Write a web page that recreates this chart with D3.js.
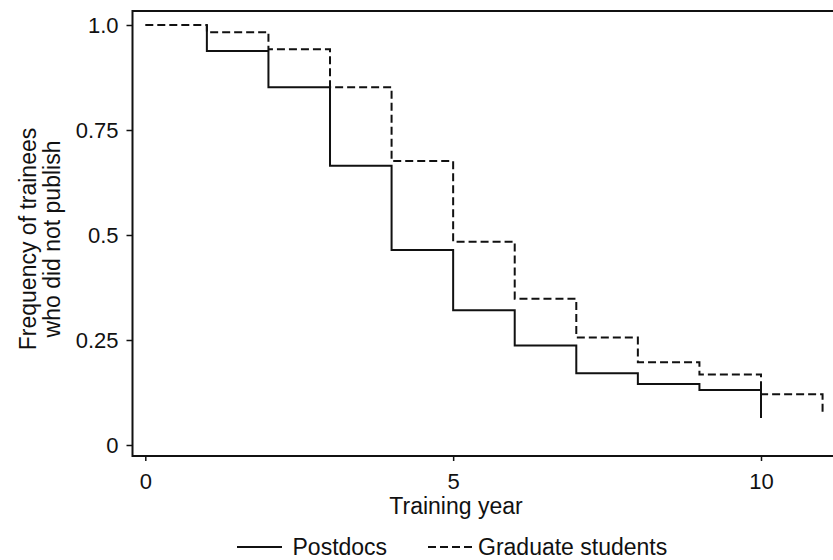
<!DOCTYPE html>
<html>
<head>
<meta charset="utf-8">
<script src="https://cdn.jsdelivr.net/npm/d3@7"></script>
<style>
  body { margin: 0; background: #fff; }
  text { font-family: "Liberation Sans", Arial, sans-serif; fill: #111; }
</style>
</head>
<body>
<div id="chart"></div>
<script>
// survival value holding from year i until year i+1 (last value = end of the final drop)
const postdocYears = [1, 2, 3, 4, 5, 6, 7, 8, 9, 10];
const postdocPrev  = [1.0, 0.938, 0.852, 0.665, 0.464, 0.321, 0.237, 0.171, 0.145, 0.131];
const postdocNext  = [0.938, 0.852, 0.665, 0.464, 0.321, 0.237, 0.171, 0.145, 0.131, 0.064];

const gradYears = [0, 1, 2, 3, 4, 5, 6, 7, 8, 9, 10, 11];
const gradSurv  = [1.0, 0.983, 0.942, 0.852, 0.676, 0.484, 0.348, 0.256, 0.197, 0.168, 0.121, 0.077];

const yTicks = [0, 0.25, 0.5, 0.75, 1];
const yTickLabels = ["0", "0.25", "0.5", "0.75", "1.0"];
const xTicks = [0, 5, 10];

const width = 833, height = 560;

const svg = d3.select("#chart").append("svg")
  .attr("width", width)
  .attr("height", height);

const x = d3.scaleLinear().domain([0, 10]).range([145.3, 761]);
const y = d3.scaleLinear().domain([0, 1]).range([445, 25]);

const frameLeft = 132.5, frameTop = 11, frameBottom = 456;

// frame (right side runs off the picture)
svg.append("path")
  .attr("d", `M${width + 5},${frameTop}H${frameLeft}V${frameBottom}H${width + 5}`)
  .attr("fill", "none")
  .attr("stroke", "#111")
  .attr("stroke-width", 2);

// axes
const yAxis = svg.append("g")
  .attr("transform", `translate(${frameLeft},0)`)
  .call(d3.axisLeft(y).tickValues(yTicks).tickSize(6).tickPadding(8)
    .tickFormat((d, i) => yTickLabels[i]));
yAxis.select(".domain").remove();
yAxis.selectAll("line").attr("stroke", "#111").attr("stroke-width", 1.5);
yAxis.selectAll("text").style("font-size", "22px").attr("fill", "#111");

const xAxis = svg.append("g")
  .attr("transform", `translate(0,${frameBottom})`)
  .call(d3.axisBottom(x).tickValues(xTicks).tickSize(5).tickPadding(12)
    .tickFormat(d3.format("d")));
xAxis.select(".domain").remove();
xAxis.selectAll("line").attr("stroke", "#111").attr("stroke-width", 1.5);
xAxis.selectAll("text").style("font-size", "22px").attr("fill", "#111");

// step curves
const line = d3.line().x(d => x(d[0])).y(d => y(d[1]));

const postdocPts = [];
postdocYears.forEach((yr, i) => {
  postdocPts.push([yr, postdocPrev[i]]);
  postdocPts.push([yr, postdocNext[i]]);
});

svg.append("path")
  .attr("d", line(postdocPts))
  .attr("fill", "none")
  .attr("stroke", "#111")
  .attr("stroke-width", 2);

const gradPts = [];
gradYears.forEach((yr, i) => {
  if (i > 0) gradPts.push([yr, gradSurv[i - 1]]);
  gradPts.push([yr, gradSurv[i]]);
});

svg.append("path")
  .attr("d", line(gradPts))
  .attr("fill", "none")
  .attr("stroke", "#111")
  .attr("stroke-width", 2)
  .attr("stroke-dasharray", "8,4");

// axis titles
svg.append("text")
  .attr("x", 456)
  .attr("y", 514)
  .attr("text-anchor", "middle")
  .style("font-size", "23px")
  .text("Training year");

const yTitle = svg.append("text")
  .attr("transform", "translate(0,239) rotate(-90)")
  .attr("text-anchor", "middle")
  .style("font-size", "23px");
yTitle.append("tspan").attr("x", 0).attr("y", 36).text("Frequency of trainees");
yTitle.append("tspan").attr("x", 0).attr("y", 60).text("who did not publish");

// legend
const legend = svg.append("g");
legend.append("line")
  .attr("x1", 237).attr("x2", 282).attr("y1", 547).attr("y2", 547)
  .attr("stroke", "#111").attr("stroke-width", 2);
legend.append("text")
  .attr("x", 292.5).attr("y", 555)
  .style("font-size", "23px")
  .text("Postdocs");
legend.append("line")
  .attr("x1", 428).attr("x2", 472).attr("y1", 547).attr("y2", 547)
  .attr("stroke", "#111").attr("stroke-width", 2)
  .attr("stroke-dasharray", "8,4");
legend.append("text")
  .attr("x", 478).attr("y", 555)
  .style("font-size", "23px")
  .text("Graduate students");
</script>
</body>
</html>
